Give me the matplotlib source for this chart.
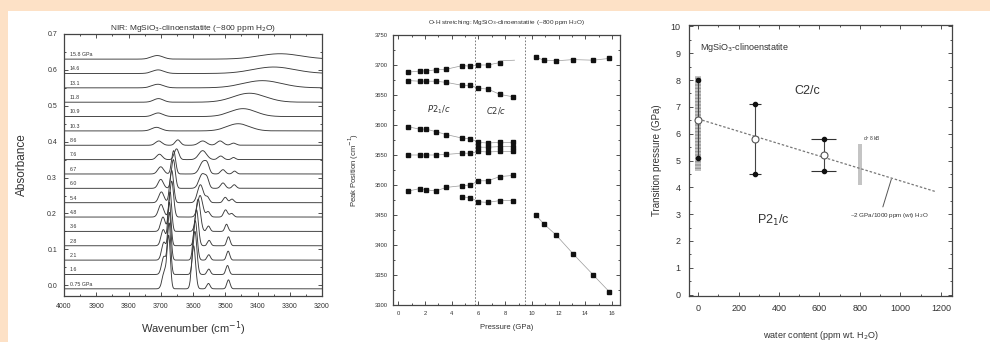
import numpy as np
import matplotlib
matplotlib.use("Agg")
import matplotlib.pyplot as plt
from matplotlib.patches import Rectangle
from matplotlib.ticker import MultipleLocator

plt.rcParams['font.family'] = ['Liberation Sans', 'DejaVu Sans']

# ---------------- data ----------------
pressures = [0.75, 1.6, 2.1, 2.8, 3.6, 4.8, 5.4, 6.0, 6.7, 7.6, 8.6, 10.3, 10.9, 11.8, 13.1, 14.6, 15.8]
trace_labels = ["0.75 GPa", "1.6", "2.1", "2.8", "3.6", "4.8", "5.4", "6.0", "6.7", "7.6", "8.6",
                "10.3", "10.9", "11.8", "13.1", "14.6", "15.8 GPa"]
trace_offsets = [-0.01, 0.03, 0.07, 0.11, 0.15, 0.19, 0.23, 0.27, 0.31, 0.35, 0.39,
                 0.43, 0.47, 0.51, 0.55, 0.59, 0.63]
# absorption bands: centre (cm-1), height, half-width
band_centres = [
    [3688, 3675, 3598, 3552, 3490],
    [3690, 3674, 3594, 3551, 3493],
    [3690, 3673, 3593, 3551, 3491],
    [3692, 3673, 3589, 3550, 3490],
    [3693, 3671, 3584, 3552, 3496],
    [3699, 3666, 3578, 3553, 3499, 3480],
    [3698, 3666, 3577, 3555, 3500, 3479],
    [3700, 3661, 3571, 3556, 3507, 3472],
    [3700, 3660, 3568, 3555, 3507, 3471],
    [3704, 3651, 3570, 3514, 3474],
    [3706, 3647, 3570, 3516, 3474],
    [3713, 3460],
    [3708, 3445],
    [3707, 3425],
    [3709, 3385],
    [3708, 3350],
    [3711, 3330],
]
band_heights = [
    [0.05, 0.14, 0.12, 0.015, 0.025],
    [0.05, 0.14, 0.12, 0.015, 0.025],
    [0.05, 0.13, 0.11, 0.015, 0.025],
    [0.045, 0.12, 0.10, 0.015, 0.025],
    [0.04, 0.11, 0.09, 0.015, 0.02],
    [0.035, 0.10, 0.06, 0.015, 0.02, 0.01],
    [0.03, 0.09, 0.05, 0.015, 0.015, 0.01],
    [0.025, 0.08, 0.04, 0.02, 0.015, 0.01],
    [0.02, 0.065, 0.035, 0.015, 0.012, 0.008],
    [0.015, 0.03, 0.025, 0.01, 0.006],
    [0.012, 0.015, 0.012, 0.012, 0.006],
    [0.01, 0.02],
    [0.01, 0.022],
    [0.01, 0.025],
    [0.01, 0.02],
    [0.01, 0.018],
    [0.01, 0.015],
]
band_widths = [
    [7, 5, 6, 5, 5],
    [7, 5, 6, 5, 5],
    [7, 5, 6, 5, 5],
    [7, 5, 6, 5, 5],
    [7, 5, 7, 5, 5],
    [8, 6, 8, 6, 6, 6],
    [8, 6, 9, 6, 6, 6],
    [8, 6, 10, 6, 7, 6],
    [9, 6, 11, 6, 7, 6],
    [9, 7, 12, 8, 6],
    [10, 8, 12, 10, 8],
    [15, 35],
    [15, 40],
    [15, 50],
    [18, 60],
    [18, 65],
    [18, 65],
]

# Peak positions vs pressure (panel b)
p_row1 = [0.75, 1.6, 2.1, 2.8, 3.6, 4.8, 5.4, 6.0, 6.7, 7.6]
v_row1 = [3688, 3690, 3690, 3692, 3693, 3699, 3698, 3700, 3700, 3704]
p_row1h = [10.3, 10.9, 11.8, 13.1, 14.6, 15.8]
v_row1h = [3713, 3708, 3707, 3709, 3708, 3711]
p_row2 = [0.75, 1.6, 2.1, 2.8, 3.6, 4.8, 5.4, 6.0, 6.7, 7.6, 8.6]
v_row2 = [3674, 3673, 3673, 3673, 3671, 3666, 3666, 3661, 3660, 3651, 3647]
p_row3 = [0.75, 1.6, 2.1, 2.8, 3.6, 4.8, 5.4, 6.0, 6.7, 7.6, 8.6]
v_row3 = [3597, 3593, 3593, 3589, 3584, 3578, 3577, 3571, 3570, 3571, 3571]
p_row4 = [0.75, 1.6, 2.1, 2.8, 3.6, 4.8, 5.4, 6.0, 6.7, 7.6, 8.6]
v_row4 = [3550, 3550, 3550, 3550, 3551, 3553, 3553, 3556, 3555, 3556, 3556]
p_row4b = [6.0, 6.7, 7.6, 8.6]
v_row4b = [3563, 3563, 3564, 3564]
p_row5 = [0.75, 1.6, 2.1, 2.8, 3.6, 4.8, 5.4, 6.0, 6.7, 7.6, 8.6]
v_row5 = [3490, 3494, 3492, 3490, 3496, 3499, 3500, 3507, 3507, 3514, 3516]
p_row6 = [4.8, 5.4, 6.0, 6.7, 7.6, 8.6]
v_row6 = [3480, 3479, 3472, 3471, 3474, 3474]
p_row7 = [10.3, 10.9, 11.8, 13.1, 14.6, 15.8]
v_row7 = [3450, 3435, 3417, 3385, 3350, 3322]
transitions = [5.75, 9.45]

# Transition pressure vs water content (panel c)
w_open = [0, 280, 620]
p_open = [6.5, 5.8, 5.2]
w_up = [0, 280, 620]
p_up = [8.0, 7.1, 5.8]
w_low = [0, 280, 620]
p_low = [5.1, 4.5, 4.6]
w_xerr = [0, 30, 60]
bar_water = [0, 800]
bar_low = [4.6, 4.1]
bar_high = [8.15, 5.6]
bar_width = [30, 22]
bar_hatch = ['-----', None]
fit_water = [0, 1170]
fit_p = [6.55, 3.85]

# ---------------- figure ----------------
fig = plt.figure(figsize=(9.9, 3.42), dpi=100, facecolor='white')
peach = '#fde1c6'
fig.patches.append(Rectangle((0, 1 - 11/342), 1, 11/342, transform=fig.transFigure,
                             facecolor=peach, edgecolor='none', zorder=-10))
fig.patches.append(Rectangle((0, 0), 8/990, 1, transform=fig.transFigure,
                             facecolor=peach, edgecolor='none', zorder=-10))

tc = '#333333'

def style(ax, fs=5, pad=3):
    ax.tick_params(which='both', direction='in', top=True, right=True, labelsize=fs,
                   colors=tc, width=0.6, pad=pad)
    ax.tick_params(which='major', length=3)
    ax.tick_params(which='minor', length=1.5)
    for s in ax.spines.values():
        s.set_color('#444444')
        s.set_linewidth(0.9)

# Panel a
ax1 = fig.add_axes([64/990, 1 - 296/342, 258/990, 262/342])
wn = np.linspace(3200, 4000, 1601)
for off, cs, hs, ws, lab in zip(trace_offsets, band_centres, band_heights, band_widths, trace_labels):
    y = np.full_like(wn, off)
    for c, h, w in zip(cs, hs, ws):
        y = y + h * np.exp(-0.5 * ((wn - c) / w) ** 2)
    ax1.plot(wn, y, color='#3a3a3a', lw=0.65)
    ax1.text(3982, off + 0.006, lab, fontsize=3.8, color=tc, va='bottom', ha='left')
ax1.set_xlim(4000, 3200)
ax1.set_ylim(-0.03, 0.7)
ax1.xaxis.set_major_locator(MultipleLocator(100))
ax1.xaxis.set_minor_locator(MultipleLocator(50))
ax1.yaxis.set_major_locator(MultipleLocator(0.1))
ax1.yaxis.set_minor_locator(MultipleLocator(0.05))
ax1.yaxis.set_major_formatter(matplotlib.ticker.FormatStrFormatter('%.1f'))
style(ax1, 5, pad=5)
ax1.set_title("NIR: MgSiO$_3$-clinoenstatite (~800 ppm H$_2$O)", fontsize=6, color=tc, pad=3)
ax1.set_xlabel("Wavenumber (cm$^{-1}$)", fontsize=8, color=tc, labelpad=7)
ax1.set_ylabel("Absorbance", fontsize=8.5, color=tc, labelpad=14)

# Panel b
ax2 = fig.add_axes([393/990, 1 - 305/342, 227/990, 270/342])
for pp, vv in [(p_row1, v_row1), (p_row1h, v_row1h), (p_row2, v_row2), (p_row3, v_row3),
               (p_row4, v_row4), (p_row4b, v_row4b), (p_row5, v_row5), (p_row6, v_row6), (p_row7, v_row7)]:
    ax2.plot(pp, vv, color='#9a9a9a', lw=0.5, zorder=1)
    ax2.plot(pp, vv, ls='none', marker='s', ms=2.8, color='#111111', zorder=2)
ax2.plot([p_row1[-1], 8.7], [v_row1[-1] + 3, v_row1[-1] + 4], color='#9a9a9a', lw=0.5)
for t in transitions:
    ax2.axvline(t, color='#666666', lw=0.6, ls=(0, (2, 2)))
ax2.text(3.0, 3625, "$P2_1/c$", fontsize=6, color=tc, ha='center', va='center')
ax2.text(7.3, 3625, "$C2/c$", fontsize=6, color=tc, ha='center', va='center')
ax2.set_xlim(-0.4, 16.6)
ax2.set_ylim(3300, 3750)
ax2.xaxis.set_major_locator(MultipleLocator(2))
ax2.xaxis.set_minor_locator(MultipleLocator(1))
ax2.yaxis.set_major_locator(MultipleLocator(50))
ax2.yaxis.set_minor_locator(MultipleLocator(25))
style(ax2, 4.2, pad=4)
ax2.set_title("O-H stretching: MgSiO$_3$-clinoenstatite (~800 ppm H$_2$O)", fontsize=4.6, color=tc, pad=8)
ax2.set_xlabel("Pressure (GPa)", fontsize=5.5, color=tc, labelpad=6)
ax2.set_ylabel("Peak Position (cm$^{-1}$)", fontsize=5.5, color=tc, labelpad=10)

# Panel c
ax3 = fig.add_axes([689/990, 1 - 296/342, 263/990, 271/342])
for wx, lo, hi, bw, hb in zip(bar_water, bar_low, bar_high, bar_width, bar_hatch):
    ax3.bar(wx, hi - lo, bottom=lo, width=bw, color='#c4c4c4', edgecolor='#999999',
            hatch=hb, lw=0, zorder=1)
ax3.plot(fit_water, fit_p, color='#777777', lw=0.9, ls=(0, (2, 1.5)), zorder=2)
for wx, lo, hi in zip(w_open, p_low, p_up):
    ax3.plot([wx, wx], [lo, hi], color='#444444', lw=0.8, zorder=2)
ax3.errorbar(w_up, p_up, xerr=w_xerr, fmt='o', ms=3, color='#111111', ecolor='#333333',
             elinewidth=0.8, capsize=0, zorder=3)
ax3.errorbar(w_low, p_low, xerr=w_xerr, fmt='o', ms=3, color='#111111', ecolor='#333333',
             elinewidth=0.8, capsize=0, zorder=3)
ax3.plot(w_open, p_open, ls='none', marker='o', ms=5, mfc='white', mec='#555555', mew=0.8, zorder=4)
ax3.text(8, 9.2, "MgSiO$_3$-clinoenstatite", fontsize=6.5, color=tc, ha='left', va='center')
ax3.text(540, 7.6, "C2/c", fontsize=9, color=tc, ha='center', va='center')
ax3.text(372, 2.75, "P2$_1$/c", fontsize=9, color=tc, ha='center', va='center')
ax3.text(815, 5.65, "d$_T$ 8 kB", fontsize=3.5, color=tc, ha='left', va='bottom')
ax3.annotate("~2 GPa/1000 ppm (wt) H$_2$O", xy=(955, 4.3), xytext=(946, 2.95),
             fontsize=4.5, color=tc, ha='center', va='center',
             arrowprops=dict(arrowstyle='-', color='#555555', lw=0.7, shrinkA=1, shrinkB=0,
                             relpos=(0.4, 1.0)))
ax3.set_xlim(-45, 1255)
ax3.set_ylim(-0.05, 10.05)
ax3.xaxis.set_major_locator(MultipleLocator(200))
ax3.xaxis.set_minor_locator(MultipleLocator(100))
ax3.yaxis.set_major_locator(MultipleLocator(1))
ax3.yaxis.set_minor_locator(MultipleLocator(0.5))
style(ax3, 6.5, pad=6)
ax3.set_xlabel("water content (ppm wt. H$_2$O)", fontsize=6.5, color=tc, labelpad=11)
ax3.set_ylabel("Transition pressure (GPa)", fontsize=7, color=tc, labelpad=6)

fig.savefig("out.png", dpi=100, facecolor=fig.get_facecolor())
